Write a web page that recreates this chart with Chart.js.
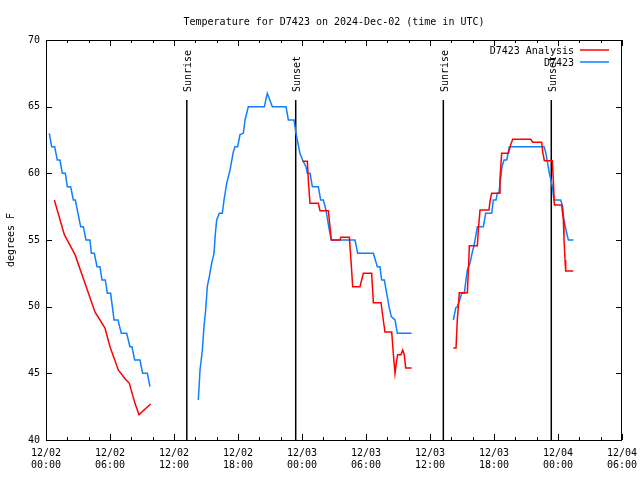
<!DOCTYPE html>
<html>
<head>
<meta charset="utf-8">
<script src="https://cdn.jsdelivr.net/npm/chart.js@4.4.1/dist/chart.umd.min.js"></script>
<style>
  html, body { margin: 0; padding: 0; background: #fff; }
</style>
</head>
<body>
<canvas id="tempChart" width="640" height="480"></canvas>
<script>
// hours since 12/02 00:00 UTC, null temp = gap in the record
const obsHours = [
    0.31, 0.53, 0.81, 1.06, 1.31, 1.53, 1.81, 2.0, 2.31, 2.56, 2.75, 3.0, 3.25, 3.5, 3.75, 4.12,
    4.25, 4.53, 4.78, 5.06, 5.25, 5.56, 5.75, 6.06, 6.38, 6.75, 7.06, 7.56, 7.87, 8.06, 8.31, 8.81,
    9.06, 9.5, 9.75,
    12,
    14.28, 14.44, 14.66, 14.81, 14.97, 15.12, 15.31, 15.53, 15.75, 15.88, 16.0, 16.25, 16.53, 16.69,
    16.94, 17.25, 17.56, 17.72, 17.97, 18.19, 18.5, 18.66, 18.97, 20.47, 20.75, 21.22, 22.5, 22.72,
    23.25, 23.44, 23.56, 23.81, 24.06, 24.37, 24.5, 24.75, 24.97, 25.53, 25.75, 26.0, 26.25, 26.4,
    26.56, 26.75, 28.97, 29.22, 30.69, 31.06, 31.31, 31.47, 31.72, 31.94, 32.16, 32.37, 32.72, 32.94,
    34.28,
    36,
    38.19, 38.41, 38.56, 38.75, 38.97, 39.22, 39.37, 39.5, 39.75, 39.97, 40.12, 40.28, 40.44, 41.0,
    41.22, 41.78, 41.94, 42.19, 42.31, 42.47, 42.62, 42.75, 42.94, 43.19, 43.34, 43.44, 46.69, 46.84,
    47.0, 47.19, 47.34, 47.47, 47.62, 48.25, 48.44, 48.56, 48.75, 48.97, 49.44
];
const obsTemps = [
    63.0, 62.0, 62.0, 61.0, 61.0, 60.0, 60.0, 59.0, 59.0, 58.0, 58.0, 57.0, 56.0, 56.0, 55.0, 55.0,
    54.0, 54.0, 53.0, 53.0, 52.0, 52.0, 51.0, 51.0, 49.0, 49.0, 48.0, 48.0, 47.0, 47.0, 46.0, 46.0,
    45.0, 45.0, 44.0,
    null,
    43.0, 45.25, 46.75, 48.5, 49.75, 51.5, 52.25, 53.25, 54.0, 55.5, 56.5, 57.0, 57.0, 58.0,
    59.25, 60.25, 61.6, 62.0, 62.0, 62.9, 63.0, 64.0, 65.0, 65.0, 66.0, 65.0, 65.0, 64.0,
    64.0, 63.0, 62.5, 61.5, 61.0, 60.5, 60.0, 60.0, 59.0, 59.0, 58.0, 58.0, 57.25, 56.5,
    55.75, 55.0, 55.0, 54.0, 54.0, 53.0, 53.0, 52.0, 52.0, 51.0, 50.0, 49.25, 49.0, 48.0,
    48.0,
    null,
    49.0, 49.9, 50.0, 50.4, 51.0, 51.0, 52.0, 52.75, 53.25, 54.1, 54.55, 55.25, 56.0, 56.0,
    57.0, 57.0, 58.0, 58.0, 58.5, 58.6, 59.6, 60.5, 61.0, 61.0, 61.6, 62.0, 62.0, 61.6,
    60.9, 60.0, 59.5, 59.0, 58.0, 58.0, 57.5, 56.5, 55.75, 55.0, 55.0
];

const anaHours = [
    0.78, 1.72, 2.72, 3.81, 4.59, 5.53, 6.0, 6.78, 7.41, 7.81, 8.34, 8.72, 9.81,
    12,
    24.03, 24.5, 24.6, 24.75, 25.53, 25.69, 26.47, 26.62, 26.75, 27.56, 27.63, 28.44, 28.6, 28.75,
    29.44, 29.59, 29.75, 30.53, 30.69, 31.41, 31.62, 31.78, 32.41, 32.56, 32.72, 32.88, 32.97, 33.28,
    33.44, 33.59, 33.72, 34.28,
    36,
    38.19, 38.44, 38.56, 38.75, 39.5, 39.6, 39.69, 40.44, 40.53, 40.69, 41.53, 41.62, 41.78, 42.47,
    42.56, 42.72, 43.34, 43.56, 43.75, 45.44, 45.63, 46.47, 46.56, 46.72, 47.47, 47.56, 47.66, 48.34,
    48.5, 48.56, 48.66, 48.72, 49.44
];
const anaTemps = [
    58.0, 55.4, 53.9, 51.4, 49.6, 48.4, 47.0, 45.25, 44.6, 44.25, 42.75, 41.9, 42.7,
    null,
    60.9, 60.9, 59.4, 57.75, 57.75, 57.2, 57.2, 56.0, 55.0, 55.0, 55.2, 55.2, 53.4, 51.5,
    51.5, 52.0, 52.5, 52.5, 50.3, 50.3, 49.0, 48.1, 48.1, 46.5, 45.0, 46.0, 46.4, 46.4,
    46.75, 46.4, 45.4, 45.4,
    null,
    46.9, 46.9, 49.0, 51.05, 51.05, 52.75, 54.57, 54.57, 55.75, 57.25, 57.25, 57.88, 58.5, 58.5,
    59.6, 61.5, 61.5, 62.13, 62.55, 62.55, 62.33, 62.33, 61.63, 60.95, 60.95, 59.5, 57.63, 57.63,
    56.5, 55.13, 53.5, 52.68, 52.68
];

// sunrise / sunset markers (hours since 12/02 00:00)
const sunLabels = ['Sunrise', 'Sunset', 'Sunrise', 'Sunset'];
const sunHours = [13.2, 23.41, 37.25, 47.37];

const seriesNames = ['D7423 Analysis', 'D7423'];
const seriesColors = ['#ff0000', '#0f7fff'];
const chartTitle = 'Temperature for D7423 on 2024-Dec-02 (time in UTC)';

const MONO = "'DejaVu Sans Mono', 'Liberation Mono', monospace";

function toPoints(hours, temps) {
    return hours.map((h, i) => ({ x: h, y: temps[i] }));
}

// gnuplot style frame, inward ticks, sun markers, title and legend
const gnuplotPlugin = {
    id: 'gnuplotPlugin',
    beforeDatasetsDraw(chart) {
        const { ctx, chartArea: a, scales: { x } } = chart;
        ctx.save();
        ctx.strokeStyle = '#000';
        ctx.fillStyle = '#000';
        ctx.lineWidth = 1.5;
        ctx.font = '10px ' + MONO;
        sunHours.forEach((h, i) => {
            const px = x.getPixelForValue(h);
            ctx.beginPath();
            ctx.moveTo(px, a.top + 60);
            ctx.lineTo(px, a.bottom);
            ctx.stroke();

            ctx.save();
            ctx.translate(px + 2, a.top + 52);
            ctx.rotate(-Math.PI / 2);
            ctx.textAlign = 'left';
            ctx.textBaseline = 'middle';
            ctx.fillText(sunLabels[i], 0, 0);
            ctx.restore();
        });
        ctx.restore();
    },
    afterDraw(chart) {
        const { ctx, chartArea: a, scales: { x, y } } = chart;
        ctx.save();
        ctx.strokeStyle = '#000';
        ctx.lineWidth = 1;
        ctx.strokeRect(a.left + 0.5, a.top + 0.5, a.right - a.left - 1, a.bottom - a.top);

        ctx.beginPath();
        x.ticks.forEach(t => {
            const px = Math.round(x.getPixelForValue(t.value)) + 0.5;
            const len = t.value % 6 === 0 ? 6 : 3;
            ctx.moveTo(px, a.bottom); ctx.lineTo(px, a.bottom - len);
            ctx.moveTo(px, a.top); ctx.lineTo(px, a.top + len);
        });
        y.ticks.forEach(t => {
            const py = Math.round(y.getPixelForValue(t.value)) + 0.5;
            ctx.moveTo(a.left, py); ctx.lineTo(a.left + 6, py);
            ctx.moveTo(a.right, py); ctx.lineTo(a.right - 6, py);
        });
        ctx.stroke();

        ctx.font = '10px ' + MONO;
        ctx.fillStyle = '#000';
        ctx.textAlign = 'center';
        ctx.textBaseline = 'middle';
        ctx.fillText(chartTitle, (a.left + a.right) / 2, 22);

        // legend: text right aligned, sample line on the right
        ctx.textAlign = 'right';
        chart.data.datasets.forEach((ds, i) => {
            const ly = a.top + 10 + i * 12;
            ctx.fillStyle = '#000';
            ctx.fillText(ds.label, a.right - 48, ly + 1);
            ctx.strokeStyle = ds.borderColor;
            ctx.lineWidth = 1.5;
            ctx.beginPath();
            ctx.moveTo(a.right - 42, ly);
            ctx.lineTo(a.right - 13, ly);
            ctx.stroke();
        });
        ctx.restore();
    }
};

Chart.defaults.color = '#000';
Chart.defaults.font.family = MONO;
Chart.defaults.font.size = 10;

const ctx = document.getElementById('tempChart').getContext('2d');
const tempChart = new Chart(ctx, {
    type: 'line',
    data: {
        datasets: [
            {
                label: seriesNames[0],
                data: toPoints(anaHours, anaTemps),
                borderColor: seriesColors[0],
                borderWidth: 1.5,
                pointRadius: 0,
                tension: 0,
                spanGaps: false
            },
            {
                label: seriesNames[1],
                data: toPoints(obsHours, obsTemps),
                borderColor: seriesColors[1],
                borderWidth: 1.5,
                pointRadius: 0,
                tension: 0,
                spanGaps: false
            }
        ]
    },
    options: {
        responsive: false,
        animation: false,
        layout: { padding: { left: 0, right: 18, top: 40, bottom: 0 } },
        plugins: {
            legend: { display: false },
            tooltip: { enabled: false },
            title: { display: false }
        },
        scales: {
            x: {
                type: 'linear',
                min: 0,
                max: 54,
                grid: { display: false, drawTicks: false },
                border: { display: false },
                ticks: {
                    stepSize: 2,
                    autoSkip: false,
                    maxRotation: 0,
                    padding: 7,
                    callback: function (value) {
                        if (value % 6 !== 0) return '';
                        const day = 2 + Math.floor(value / 24);
                        const hh = String(value % 24).padStart(2, '0');
                        return ['12/0' + day, hh + ':00'];
                    }
                },
                afterFit: function (scale) {
                    scale.height = 40;
                    scale.paddingLeft = 0;
                    scale.paddingRight = 0;
                }
            },
            y: {
                min: 40,
                max: 70,
                grid: { display: false, drawTicks: false },
                border: { display: false },
                ticks: { stepSize: 5, padding: 6 },
                title: {
                    display: true,
                    text: 'degrees F',
                    font: { size: 10, family: MONO },
                    padding: { top: 5, bottom: 0 }
                },
                afterFit: function (scale) {
                    scale.width = 46;
                    scale.paddingTop = 0;
                    scale.paddingBottom = 0;
                }
            }
        }
    },
    plugins: [gnuplotPlugin]
});
</script>
</body>
</html>
